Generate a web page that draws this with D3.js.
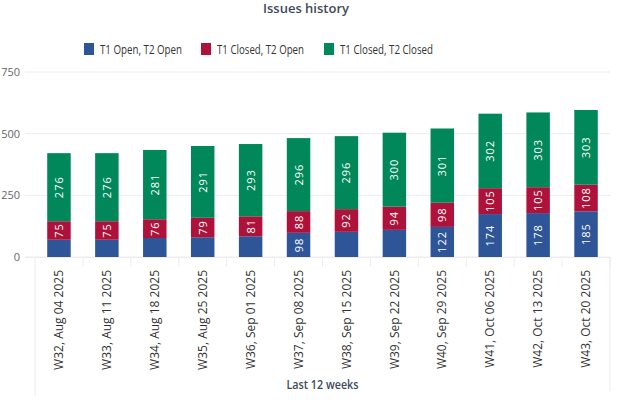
<!DOCTYPE html>
<html><head><meta charset="utf-8">
<script src="https://cdn.jsdelivr.net/npm/d3@7"></script>
<style>body{margin:0;background:#fff}svg{display:block;font-family:"Open Sans","Noto Sans",sans-serif}</style>
</head><body><svg id="c" width="619" height="401"></svg>
<script>
const categories = ["W32, Aug 04 2025","W33, Aug 11 2025","W34, Aug 18 2025","W35, Aug 25 2025","W36, Sep 01 2025","W37, Sep 08 2025","W38, Sep 15 2025","W39, Sep 22 2025","W40, Sep 29 2025","W41, Oct 06 2025","W42, Oct 13 2025","W43, Oct 20 2025"];
const seriesNames = ["T1 Open, T2 Open","T1 Closed, T2 Open","T1 Closed, T2 Closed"];
const t1OpenT2Open = [70,70,77,80,84,98,102,110,122,174,178,185];
const t1ClosedT2Open = [75,75,76,79,81,88,92,94,98,105,105,108];
const t1ClosedT2Closed = [276,276,281,291,293,296,296,300,301,302,303,303];
const yTicks = [0,250,500,750];
const colors = ["#2e5597","#ae123a","#00875a"];
const showLabel = [
  [false,false,false,false,false,true,false,false,true,true,true,true],
  [true,true,true,true,true,true,true,true,true,true,true,true],
  [true,true,true,true,true,true,true,true,true,true,true,true]
];

const svg = d3.select("#c");
const x = d3.scaleBand().domain(categories).range([35,610]).paddingInner(0.51).paddingOuter(0.255);
const y = d3.scaleLinear().domain([0,750]).range([257,72]);

const rows = categories.map((c,i)=>({cat:c, s0:t1OpenT2Open[i], s1:t1ClosedT2Open[i], s2:t1ClosedT2Closed[i]}));
const stack = d3.stack().keys(["s0","s1","s2"])(rows);

// gridlines
svg.append("g").selectAll("line").data(yTicks).join("line")
  .attr("x1",25).attr("x2",610).attr("y1",d=>y(d)).attr("y2",d=>y(d))
  .attr("stroke","#ececec").attr("stroke-width",1);
svg.append("g").selectAll("text").data(yTicks).join("text")
  .attr("x",20).attr("y",d=>y(d)).attr("dy","0.35em").attr("text-anchor","end")
  .attr("font-size",11).attr("fill","#666").text(d=>d);

// x axis ticks
const stepEdges = categories.map(c=>x(c)-x.step()*x.paddingInner()/2);
stepEdges.push(610);
svg.append("g").selectAll("line").data(stepEdges).join("line")
  .attr("x1",d=>d).attr("x2",d=>d).attr("y1",257).attr("y2",(d,i)=>i===0?396:267)
  .attr("stroke","#ececec");
svg.append("line").attr("x1",610).attr("x2",610).attr("y1",257).attr("y2",391).attr("stroke","#ececec");
svg.append("line").attr("x1",25).attr("x2",610).attr("y1",257.5).attr("y2",257.5).attr("stroke","#ececec");

// bars
stack.forEach((layer,li)=>{
  const g = svg.append("g");
  g.selectAll("rect").data(layer).join("rect")
    .attr("x",d=>x(d.data.cat)).attr("width",x.bandwidth())
    .attr("y",d=>y(d[1])).attr("height",d=>y(d[0])-y(d[1]))
    .attr("fill",colors[li]);
  g.selectAll("text").data(layer.filter((d,i)=>showLabel[li][i])).join("text")
    .attr("transform",d=>`translate(${x(d.data.cat)+x.bandwidth()/2},${(y(d[0])+y(d[1]))/2}) rotate(-90)`)
    .attr("text-anchor","middle").attr("dy","0.36em")
    .attr("font-size",11).attr("fill","#fff").attr("letter-spacing","1px")
    .text(d=>d[1]-d[0]);
});

// x labels
svg.append("g").selectAll("text").data(categories).join("text")
  .attr("transform",d=>`translate(${x(d)+x.bandwidth()/2},270) rotate(-90)`)
  .attr("text-anchor","end").attr("dy","0.35em")
  .attr("font-size",12).attr("fill","#333").text(d=>d);

svg.append("text").attr("x",322.5).attr("y",389).attr("text-anchor","middle")
  .attr("font-size",12).attr("fill","#3d4a5c").attr("font-weight",600)
  .attr("textLength",72).attr("lengthAdjust","spacingAndGlyphs").text("Last 12 weeks");

svg.append("text").attr("x",306).attr("y",13).attr("text-anchor","middle")
  .attr("font-size",13).attr("fill","#3d4a5c").attr("font-weight",600).text("Issues history");

// legend
const legX = [84,201,324];
const legW = [82,87,93];
const lg = svg.append("g").selectAll("g").data(seriesNames).join("g")
  .attr("transform",(d,i)=>`translate(${legX[i]},43)`);
lg.append("rect").attr("width",10).attr("height",12).attr("fill",(d,i)=>colors[i]);
lg.append("text").attr("x",16).attr("y",6.5).attr("dy","0.36em").attr("font-size",12.5)
  .attr("textLength",(d,i)=>legW[i]).attr("lengthAdjust","spacingAndGlyphs")
  .attr("fill","#333").text(d=>d);
</script></body></html>
